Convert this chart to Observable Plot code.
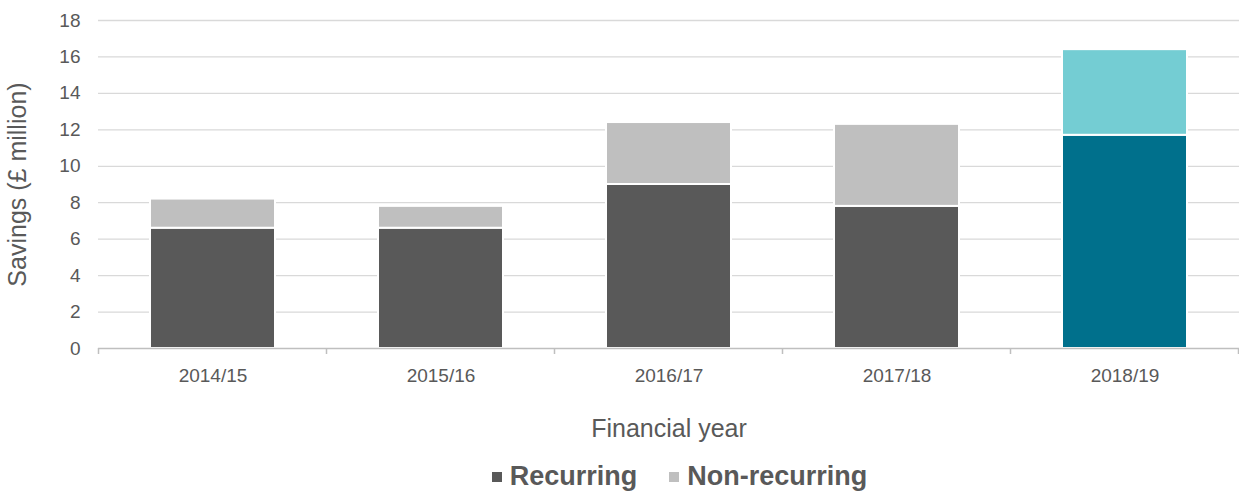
<!DOCTYPE html>
<html>
<head>
<meta charset="utf-8">
<script src="https://cdn.jsdelivr.net/npm/d3@7"></script>
<script src="https://cdn.jsdelivr.net/npm/@observablehq/plot@0.6"></script>
<style>
  html, body { margin: 0; padding: 0; background: #fff; }
  body { width: 1239px; height: 492px; overflow: hidden; font-family: "Liberation Sans", Arial, sans-serif; }
  #chart svg { display: block; }
  #legend { display: flex; justify-content: center; align-items: center; height: 37px; margin-left: 120px; padding-top: 8px;
            font-family: "Liberation Sans", Arial, sans-serif; font-weight: bold; font-size: 27px; color: #595959; }
  .item { display: flex; align-items: center; margin: 0 16px; }
  .sw { width: 10px; height: 10px; margin-right: 8px; }
</style>
</head>
<body>
<div id="chart"></div>
<div id="legend"></div>
<script>
const years = ["2014/15", "2015/16", "2016/17", "2017/18", "2018/19"];
const seriesNames = ["Recurring", "Non-recurring"];
const recurring = [6.6, 6.6, 9.0, 7.8, 11.7];
const nonRecurring = [1.6, 1.2, 3.4, 4.5, 4.7];
const yTicks = [0, 2, 4, 6, 8, 10, 12, 14, 16, 18];
const seriesColors = ["#595959", "#bfbfbf"];
const highlightYear = "2018/19";
const highlightColors = ["#00708c", "#74cdd3"];

const rows = [];
years.forEach((yr, i) => {
  [recurring[i], nonRecurring[i]].forEach((v, s) => {
    rows.push({
      year: yr,
      series: seriesNames[s],
      value: v,
      color: yr === highlightYear ? highlightColors[s] : seriesColors[s]
    });
  });
});

const plot = Plot.plot({
  width: 1239,
  height: 450,
  marginLeft: 98,
  marginRight: 0,
  marginTop: 20,
  marginBottom: 102,
  style: { fontFamily: "Liberation Sans, Arial, sans-serif", color: "#595959", background: "#fff" },
  x: { domain: years, paddingInner: 0.45, paddingOuter: 0.225, label: null },
  y: { domain: [0, 18], label: null },
  color: { type: "identity" },
  marks: [
    Plot.ruleY(yTicks.filter(d => d > 0), { stroke: "#d9d9d9", strokeWidth: 1.3 }),
    Plot.barY(rows, { x: "year", y: "value", fill: "color", stroke: "#fff", strokeWidth: 2 }),
    Plot.ruleY([0], { stroke: "#bfbfbf", strokeWidth: 1.5 }),
    Plot.axisY({ ticks: yTicks, tickSize: 0, tickPadding: 18, fontSize: 19, fill: "#595959",
                 label: "Savings (£ million)", labelAnchor: "center", labelArrow: "none", labelOffset: 90 }),
    Plot.axisX({ tickSize: 0, tickPadding: 20, fontSize: 19, fill: "#595959",
                 label: "Financial year", labelAnchor: "center", labelArrow: "none", labelOffset: 88 })
  ]
});

// boundary ticks between categories, from the band scale
const xs = plot.scale("x");
const bounds = years.map(y => xs.apply(y) - (xs.step - xs.bandwidth) / 2);
bounds.push(xs.apply(years[years.length - 1]) + xs.bandwidth + (xs.step - xs.bandwidth) / 2);
const ys = plot.scale("y");
const y0 = ys.apply(0);
d3.select(plot).append("g").selectAll("line").data(bounds).join("line")
  .attr("x1", d => d).attr("x2", d => d)
  .attr("y1", y0).attr("y2", y0 + 6)
  .attr("stroke", "#bfbfbf").attr("stroke-width", 1.5);

d3.select(plot).selectAll("[aria-label='y-axis label'], [aria-label='x-axis label']")
  .attr("font-size", 25).attr("fill", "#595959");

document.getElementById("chart").appendChild(plot);

const legend = document.getElementById("legend");
seriesNames.forEach((name, i) => {
  const item = document.createElement("div");
  item.className = "item";
  const sw = document.createElement("div");
  sw.className = "sw";
  sw.style.background = seriesColors[i];
  const t = document.createElement("span");
  t.textContent = name;
  item.appendChild(sw);
  item.appendChild(t);
  legend.appendChild(item);
});
</script>
</body>
</html>
